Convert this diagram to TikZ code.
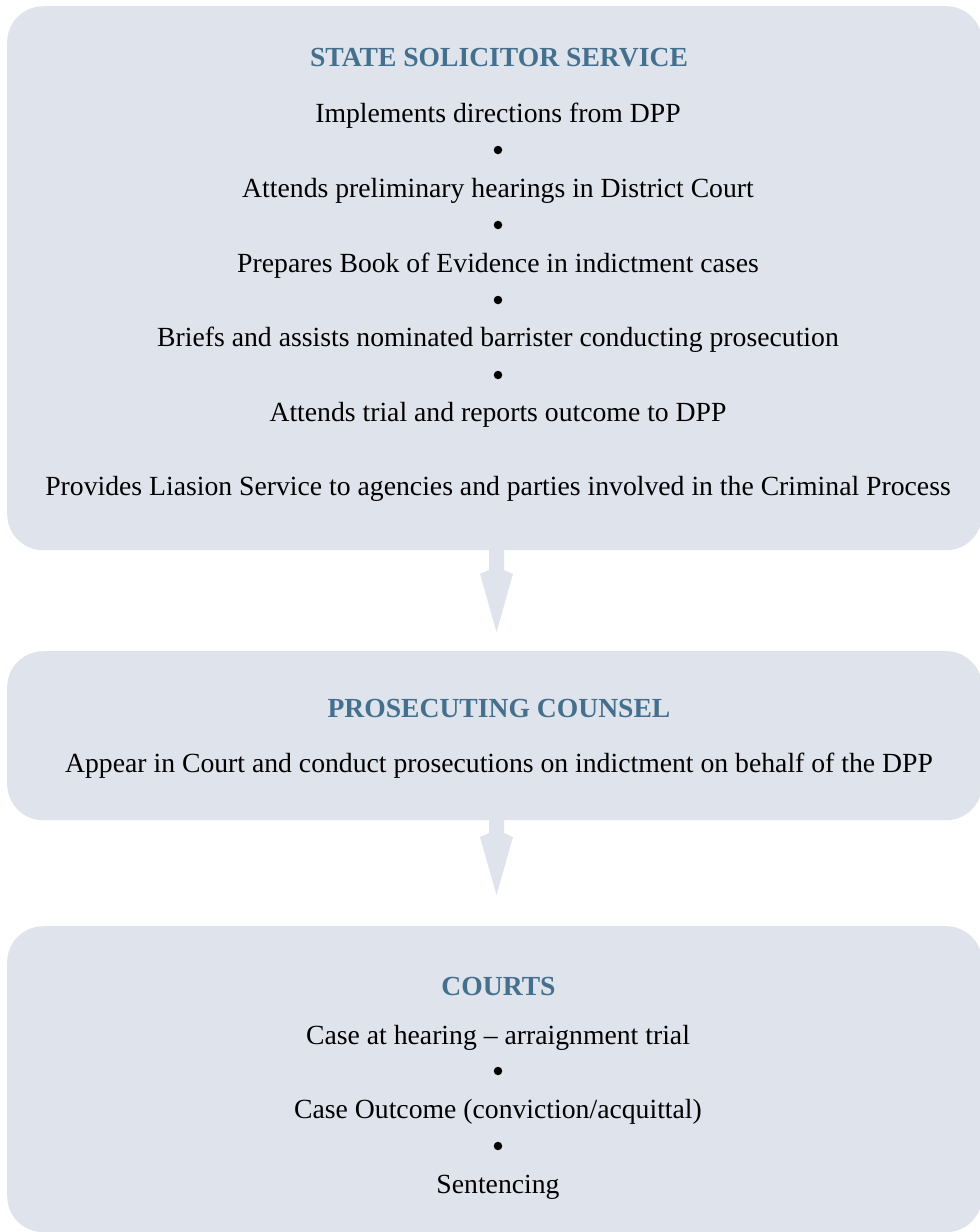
\documentclass[tikz,border=0pt]{standalone}
\usepackage{fontspec}
\setmainfont{Liberation Serif}
\usetikzlibrary{calc}
\definecolor{boxfill}{HTML}{DFE3EC}
\definecolor{titleblue}{HTML}{44708E}
\tikzset{
  panel/.style={fill=boxfill, draw=none, rounded corners=36pt, inner sep=0pt, anchor=north west},
  ptitle/.style={anchor=base, inner sep=0pt, text=titleblue, font=\fontsize{27.6}{31}\selectfont\bfseries},
  pline/.style={anchor=base, inner sep=0pt, text=black, font=\fontsize{27.7}{31}\selectfont},
  dot/.style={circle, fill=black, inner sep=0pt, minimum size=8.5pt},
  blockarrow/.style={fill=boxfill, draw=none}
}
\begin{document}
\begin{tikzpicture}[x=1pt,y=-1pt]
\useasboundingbox (0,0) rectangle (980,1232);
% panels
\node[panel, minimum width=975pt, minimum height=544pt] (ss) at (7,6) {};
\node[panel, minimum width=975pt, minimum height=169pt] (pc) at (7,651) {};
\node[panel, minimum width=975pt, minimum height=306pt] (ct) at (7,926) {};
% block arrows
\coordinate (a1s) at (496.5,550);
\coordinate (a1t) at (496.5,632);
\fill[blockarrow] ($(a1s)+(-7.5,-1)$) -- ($(a1s)+(7.5,-1)$) -- ($(a1s)+(7.5,20)$) -- ($(a1s)+(16.5,24)$) -- (a1t) -- ($(a1s)+(-16.5,24)$) -- ($(a1s)+(-7.5,20)$) -- cycle;
\coordinate (a2s) at (496.5,820);
\coordinate (a2t) at (496.5,895);
\fill[blockarrow] ($(a2s)+(-7.5,-1)$) -- ($(a2s)+(7.5,-1)$) -- ($(a2s)+(7.5,13)$) -- ($(a2s)+(16.5,17)$) -- (a2t) -- ($(a2s)+(-16.5,17)$) -- ($(a2s)+(-7.5,13)$) -- cycle;
% State Solicitor Service
\node[ptitle] (t1) at (499,66) {STATE SOLICITOR SERVICE};
\node[pline] (l1) at (498,122) {Implements directions from DPP};
\node[dot] (d1) at (498,150) {};
\node[pline] (l2) at (498,197) {Attends preliminary hearings in District Court};
\node[dot] (d2) at (498,225) {};
\node[pline] (l3) at (498,272) {Prepares Book of Evidence in indictment cases};
\node[dot] (d3) at (498,300) {};
\node[pline] (l4) at (498,346.5) {Briefs and assists nominated barrister conducting prosecution};
\node[dot] (d4) at (498,375) {};
\node[pline] (l5) at (498,421) {Attends trial and reports outcome to DPP};
\node[pline] (l6) at (498,495) {Provides Liasion Service to agencies and parties involved in the Criminal Process};
% Prosecuting Counsel
\node[ptitle] (t2) at (499,717) {PROSECUTING COUNSEL};
\node[pline] (m1) at (499,772) {Appear in Court and conduct prosecutions on indictment on behalf of the DPP};
% Courts
\node[ptitle] (t3) at (498.5,995) {COURTS};
\node[pline] (c1) at (498,1044) {Case at hearing -- arraignment trial};
\node[dot] (e1) at (498,1071) {};
\node[pline] (c2) at (498,1118) {Case Outcome (conviction/acquittal)};
\node[dot] (e2) at (498,1146) {};
\node[pline] (c3) at (498,1193) {Sentencing};
\end{tikzpicture}
\end{document}
